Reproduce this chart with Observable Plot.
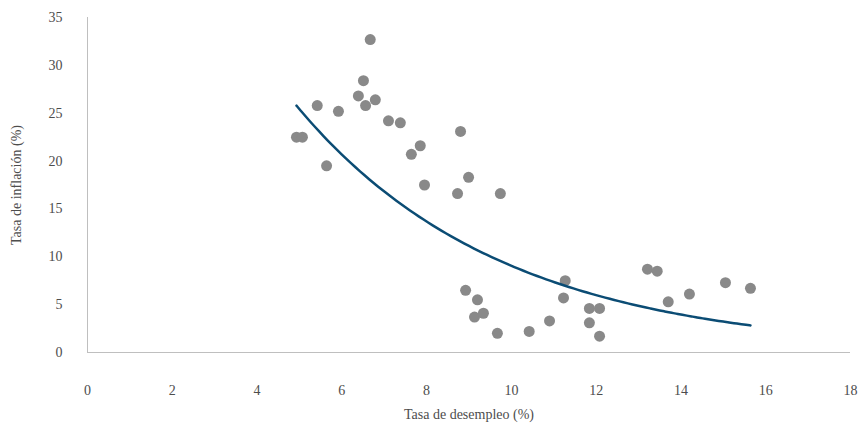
<!DOCTYPE html>
<html><head><meta charset="utf-8">
<script src="https://cdn.jsdelivr.net/npm/d3@7"></script>
<script src="https://cdn.jsdelivr.net/npm/@observablehq/plot@0.6"></script>
<style>body{margin:0;background:#fff}</style>
</head><body><div id="chart"></div>
<script>
const desempleo = [4.93,5.07,5.42,5.64,5.92,6.39,6.51,6.56,6.67,6.79,7.10,7.38,7.64,7.85,7.95,8.73,8.80,8.99,9.74,
  8.92,9.20,9.13,9.34,9.67,10.42,10.90,11.27,11.23,11.84,12.08,11.84,12.08,13.21,13.44,13.70,14.20,15.05,15.64];
const inflacion = [22.5,22.5,25.8,19.5,25.2,26.8,28.4,25.8,32.7,26.4,24.2,24.0,20.7,21.6,17.5,16.6,23.1,18.3,16.6,
  6.5,5.5,3.7,4.1,2.0,2.2,3.3,7.5,5.7,4.6,4.6,3.1,1.7,8.7,8.5,5.3,6.1,7.3,6.7];
const xTicks = [0,2,4,6,8,10,12,14,16,18];
const yTicks = [0,5,10,15,20,25,30,35];

const pts = desempleo.map((x,i)=>({x, y: inflacion[i]}));
// exponential trend (least squares on ln y)
const mx = d3.mean(pts, d=>d.x), my = d3.mean(pts, d=>Math.log(d.y));
const b = d3.sum(pts, d=>(d.x-mx)*(Math.log(d.y)-my)) / d3.sum(pts, d=>(d.x-mx)**2);
const a = Math.exp(my - b*mx);
const [x0,x1] = d3.extent(desempleo);
const trend = d3.range(0, 101).map(i => { const x = x0 + (x1-x0)*i/100; return {x, y: a*Math.exp(b*x)}; });

const font = "'Liberation Serif', 'DejaVu Serif', serif";
const chart = Plot.plot({
  width: 862, height: 427,
  marginLeft: 87, marginRight: 12, marginTop: 17, marginBottom: 75,
  style: {fontFamily: font, fontSize: "14px", color: "#4d4d4d", background: "#fff"},
  x: {domain: [0,18]},
  y: {domain: [0,35]},
  marks: [
    Plot.ruleX([0], {stroke: "#bfbfbf", strokeWidth: 1}),
    Plot.ruleY([0], {stroke: "#bfbfbf", strokeWidth: 1}),
    Plot.axisX({ticks: xTicks, tickSize: 0, tickPadding: 33, label: "Tasa de desempleo (%)", labelAnchor: "center", labelOffset: 66, labelArrow: "none", fontSize: 14}),
    Plot.axisY({ticks: yTicks, tickSize: 0, tickPadding: 25, label: "Tasa de inflación (%)", labelAnchor: "center", labelOffset: 76, labelArrow: "none", fontSize: 14}),
    Plot.dot(pts, {x: "x", y: "y", r: 5.5, fill: "#898989", stroke: "none"}),
    Plot.line(trend, {x: "x", y: "y", stroke: "#0b4c74", strokeWidth: 2.5, curve: "basis"})
  ]
});
document.getElementById("chart").appendChild(chart);
</script></body></html>
